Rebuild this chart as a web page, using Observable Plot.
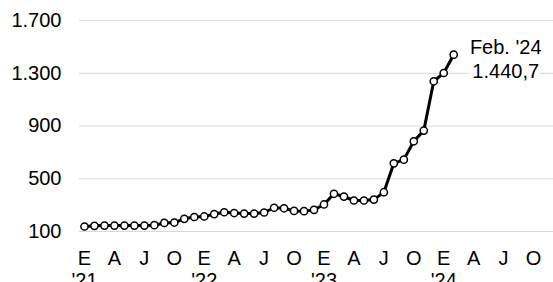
<!DOCTYPE html>
<html>
<head>
<meta charset="utf-8">
<script src="https://cdn.jsdelivr.net/npm/d3@7"></script>
<script src="https://cdn.jsdelivr.net/npm/@observablehq/plot@0.6"></script>
<style>
  html, body { margin: 0; padding: 0; background: #fff; }
  #chart { width: 553px; height: 282px; overflow: hidden; }
</style>
</head>
<body>
<div id="chart"></div>
<script>
// Month categories (Jan 2021 .. Feb 2024)
const months = [
  "2021-01","2021-02","2021-03","2021-04","2021-05","2021-06","2021-07","2021-08","2021-09","2021-10","2021-11","2021-12",
  "2022-01","2022-02","2022-03","2022-04","2022-05","2022-06","2022-07","2022-08","2022-09","2022-10","2022-11","2022-12",
  "2023-01","2023-02","2023-03","2023-04","2023-05","2023-06","2023-07","2023-08","2023-09","2023-10","2023-11","2023-12",
  "2024-01","2024-02"
];
// Series values
const values = [
  138, 143, 145, 145, 145, 145, 145, 148, 165, 168, 196, 210,
  214, 232, 246, 240, 236, 236, 244, 280, 276, 256, 254, 264,
  305, 386, 365, 335, 335, 342, 398, 617, 645, 784, 865, 1239,
  1302, 1440.7
];
// Axis ticks and labels
const yTicks = [100, 500, 900, 1300, 1700];
const yTickLabels = ["100", "500", "900", "1.300", "1.700"];
const xTickLabels = ["E","A","J","O","E","A","J","O","E","A","J","O","E","A","J","O"];
const yearLabels = ["'21", "'22", "'23", "'24"];
const lastLabel = "Feb. '24";

const data = months.map((m, i) => ({i, month: m, value: values[i]}));
const xTicks = xTickLabels.map((_, k) => k * 3);
const yearTicks = yearLabels.map((_, k) => k * 12);

const es = d3.formatLocale({decimal: ",", thousands: ".", grouping: [3], currency: ["", ""]});
const fmt = es.format(",.1f");
const last = data[data.length - 1];

const chart = Plot.plot({
  width: 553,
  height: 282,
  marginLeft: 79,
  marginRight: 0,
  marginTop: 20,
  marginBottom: 51,
  style: {fontFamily: "'Liberation Sans', Arial, sans-serif", fontSize: "20px", background: "white", color: "#000"},
  x: {type: "linear", domain: [-0.5, 47], label: null},
  y: {domain: [100, 1700], label: null},
  marks: [
    Plot.gridY(yTicks, {stroke: "#d9d9d9", strokeOpacity: 1, strokeWidth: 1.2}),
    Plot.axisY(yTicks, {tickSize: 0, tickPadding: 18, label: null, tickFormat: d => yTickLabels[yTicks.indexOf(d)], fontSize: 20}),
    Plot.axisX(xTicks, {tickSize: 0, tickPadding: 19, label: null, tickFormat: d => xTickLabels[xTicks.indexOf(d)], fontSize: 20}),
    Plot.axisX(yearTicks, {tickSize: 0, tickPadding: 41, label: null, tickFormat: d => yearLabels[yearTicks.indexOf(d)], fontSize: 20}),
    Plot.line(data, {x: "i", y: "value", stroke: "#000", strokeWidth: 3}),
    Plot.dot(data, {x: "i", y: "value", r: 3.6, fill: "#fff", stroke: "#000", strokeWidth: 1.5}),
    Plot.text([last], {
      x: "i", y: "value",
      text: d => `${lastLabel}\n${fmt(d.value)}`,
      dx: 52, dy: -18, lineAnchor: "top", lineHeight: 1.2, textAnchor: "middle",
      fill: "#000", stroke: "#fff", strokeWidth: 10, fontSize: 20
    })
  ]
});
document.getElementById("chart").appendChild(chart);
</script>
</body>
</html>
